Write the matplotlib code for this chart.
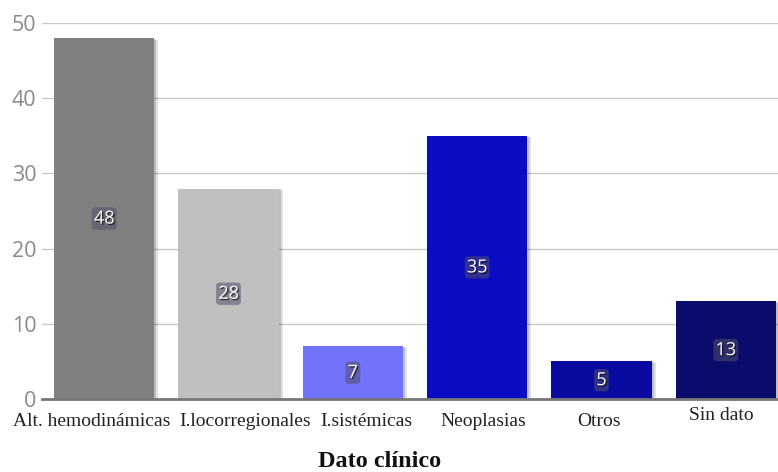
import matplotlib
matplotlib.use("Agg")
import matplotlib.pyplot as plt
import matplotlib.patheffects as pe
from matplotlib.transforms import ScaledTranslation

categories = ["Alt. hemodinámicas", "I.locorregionales", "I.sistémicas",
              "Neoplasias", "Otros", "Sin dato"]
values = [48, 28, 7, 35, 5, 13]
colors = ["#808080", "#c0c0c0", "#7272fa", "#0b0bc4", "#0a0aa0", "#0b0b6c"]
y_ticks = [0, 10, 20, 30, 40, 50]

# horizontal / vertical nudges (in points) for the category labels
label_dx = [-9, 12, 10, 4.5, -1.5, -3]
label_dy = [0, 0, 0, 0, 0, 4]

fig = plt.figure(figsize=(7.78, 4.72), dpi=100)
ax = fig.add_axes([0.054, 0.1547, 0.946, 0.7963])

x = list(range(len(categories)))
bars = ax.bar(x, values, width=0.805, color=colors, zorder=3)
for b in bars:
    b.set_path_effects([pe.SimplePatchShadow(offset=(3, -1), shadow_rgbFace="#000000", alpha=0.12),
                        pe.SimplePatchShadow(offset=(1.5, -0.5), shadow_rgbFace="#000000", alpha=0.15),
                        pe.Normal()])

for xi, v in zip(x, values):
    ax.text(xi, v / 2, str(v), ha="center", va="center", color="white",
            fontsize=13, family="Open Sans", zorder=5,
            bbox=dict(boxstyle="round,pad=0.12,rounding_size=0.2",
                      facecolor="#50506a", alpha=0.55, edgecolor="none"),
            path_effects=[pe.withSimplePatchShadow(offset=(1, -1), shadow_rgbFace="#000000", alpha=0.6)])

ax.set_ylim(0, 50)
ax.set_xlim(-0.5, 5.42)
ax.set_yticks(y_ticks)
ax.set_yticklabels([str(t) for t in y_ticks], color="#8a8a8a", fontsize=15.5, family="Open Sans")
ax.tick_params(axis="y", length=0, pad=4)
ax.yaxis.grid(True, color="#c8c8c8", linewidth=1, zorder=0)

ax.set_xticks(x)
ax.set_xticklabels(categories, family="Liberation Serif", fontsize=14, color="#222222")
ax.tick_params(axis="x", length=0, pad=10)
for lbl, dx, dy in zip(ax.get_xticklabels(), label_dx, label_dy):
    lbl.set_transform(lbl.get_transform() + ScaledTranslation(dx / 72, dy / 72, fig.dpi_scale_trans))

for s in ["top", "right", "left"]:
    ax.spines[s].set_visible(False)
ax.spines["bottom"].set_color("#777777")
ax.spines["bottom"].set_linewidth(2)
ax.spines["bottom"].set_zorder(4)

fig.text(0.4885, 0.01, "Dato clínico", family="Liberation Serif", fontweight="bold",
         fontsize=17.5, color="#111111", ha="center", va="baseline")

fig.savefig("out.png", dpi=100)
